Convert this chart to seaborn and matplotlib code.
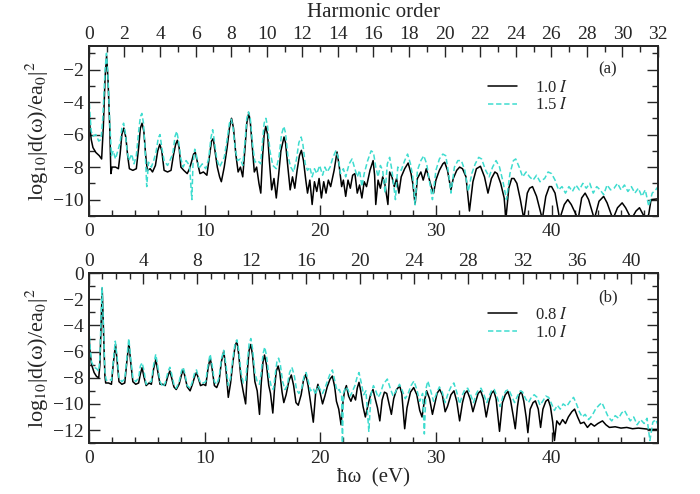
import numpy as np
import pandas as pd
import matplotlib
matplotlib.use("Agg")
import matplotlib.pyplot as plt
from matplotlib.ticker import MultipleLocator
import seaborn as sns

# ---------------- data ----------------
# panel (a): photon energy (eV) and log10|d(w)/ea0|^2
a_black = [
    (0.0, -4.4), (0.1, -5.6), (0.2, -6.3), (0.35, -6.8), (0.6, -7.1), (0.9, -7.3), (1.1, -7.5),
    (1.25, -5.5), (1.4, -2.5), (1.53, -1.15), (1.65, -2.6), (1.8, -5.5), (1.9, -8.4), (2.0, -8.0),
    (2.3, -8.0), (2.55, -8.1), (2.7, -7.2), (2.85, -6.0), (3.02, -5.6), (3.2, -6.2), (3.35, -7.3),
    (3.5, -8.1), (3.8, -8.2), (4.1, -8.1), (4.3, -6.8), (4.45, -5.6), (4.6, -5.3), (4.75, -5.8),
    (4.9, -7.2), (5.05, -8.2), (5.3, -8.1), (5.5, -8.3), (5.75, -7.9), (5.95, -7.0), (6.13, -6.6),
    (6.3, -7.0), (6.5, -8.2), (6.8, -8.3), (7.1, -8.2), (7.3, -7.3), (7.5, -6.6), (7.65, -6.35),
    (7.8, -6.8), (7.95, -8.0), (8.2, -8.2), (8.5, -8.4), (8.7, -8.1), (8.9, -7.6), (9.05, -7.2),
    (9.2, -7.1), (9.35, -7.6), (9.6, -8.4), (9.9, -8.3), (10.2, -8.5), (10.45, -7.2), (10.6, -6.4),
    (10.75, -6.25), (10.9, -7.0), (11.1, -8.0), (11.3, -8.6), (11.45, -8.9), (11.7, -8.0),
    (11.95, -6.8), (12.15, -5.6), (12.33, -5.0), (12.5, -5.6), (12.7, -7.2), (12.9, -8.3),
    (13.1, -8.0), (13.3, -8.6), (13.5, -6.8), (13.65, -5.3), (13.82, -4.68), (13.95, -5.2),
    (14.15, -7.0), (14.3, -8.3), (14.5, -8.0), (14.7, -9.0), (14.86, -9.6), (15.0, -7.5),
    (15.15, -6.0), (15.29, -5.5), (15.45, -6.0), (15.6, -7.6), (15.8, -9.4), (16.0, -8.7),
    (16.2, -9.9), (16.4, -8.5), (16.6, -7.0), (16.87, -6.15), (17.0, -6.5), (17.2, -8.0),
    (17.4, -9.4), (17.6, -8.6), (17.8, -9.3), (18.0, -8.2), (18.2, -7.3), (18.37, -6.97),
    (18.55, -7.6), (18.75, -8.8), (18.9, -9.6), (19.1, -8.8), (19.3, -10.3), (19.5, -8.9),
    (19.7, -9.5), (19.9, -8.7), (20.1, -9.9), (20.3, -8.9), (20.5, -9.6), (20.7, -8.8),
    (20.9, -9.2), (21.2, -8.2), (21.45, -7.07), (21.65, -8.0), (21.85, -9.2), (22.0, -8.8),
    (22.2, -9.8), (22.4, -8.8), (22.6, -9.3), (22.8, -8.5), (23.0, -8.4), (23.2, -9.6),
    (23.4, -9.1), (23.6, -9.9), (23.8, -8.9), (24.0, -9.2), (24.3, -8.2), (24.57, -7.6),
    (24.7, -8.5), (24.8, -10.3), (25.0, -8.8), (25.2, -9.3), (25.4, -8.6), (25.6, -9.1),
    (25.85, -10.3), (26.0, -8.3), (26.2, -8.6), (26.4, -9.2), (26.6, -8.7), (26.8, -9.6),
    (27.0, -8.6), (27.3, -8.1), (27.6, -7.75), (27.85, -8.4), (28.0, -9.0), (28.2, -10.3),
    (28.4, -8.7), (28.7, -8.3), (28.9, -8.8), (29.17, -8.1), (29.4, -8.7), (29.6, -9.2),
    (29.8, -9.6), (30.0, -8.8), (30.3, -8.2), (30.6, -7.8), (30.76, -7.7), (31.0, -8.2),
    (31.3, -9.4), (31.5, -8.7), (31.8, -8.2), (32.05, -8.0), (32.3, -8.1), (32.6, -8.6),
    (32.9, -10.7), (33.2, -8.9), (33.5, -8.1), (33.85, -7.95), (34.2, -8.6), (34.5, -9.6),
    (34.8, -8.7), (35.1, -8.3), (35.3, -8.4), (35.6, -9.0), (35.9, -9.9), (36.05, -11.2),
    (36.3, -9.3), (36.55, -8.7), (36.75, -8.7), (37.0, -9.0), (37.3, -10.0), (37.6, -11.2),
    (37.9, -9.6), (38.1, -9.3), (38.35, -9.2), (38.7, -9.8), (39.2, -11.2), (39.5, -9.8),
    (39.8, -9.2), (40.0, -9.2), (40.3, -9.6), (40.7, -11.2), (41.1, -10.3), (41.4, -10.0),
    (41.7, -10.3), (42.3, -11.2), (42.6, -9.9), (42.9, -9.6), (43.2, -10.0), (43.7, -11.2),
    (44.1, -10.1), (44.5, -9.8), (44.8, -10.2), (45.3, -11.2), (45.7, -10.5), (46.1, -10.2),
    (46.4, -10.5), (46.9, -11.2), (47.3, -10.7), (47.6, -10.5), (47.9, -10.9), (48.2, -11.2),
    (48.4, -10.9), (48.6, -10.0), (49.2, -9.95),
]
a_cyan = [
    (0.0, -3.6), (0.1, -4.8), (0.2, -5.8), (0.35, -6.1), (0.6, -6.0), (0.85, -6.4), (1.05, -6.3),
    (1.2, -5.0), (1.4, -2.0), (1.52, -1.0), (1.65, -2.4), (1.8, -5.2), (1.95, -7.3), (2.1, -7.0),
    (2.3, -7.5), (2.5, -7.0), (2.7, -6.5), (2.85, -5.6), (3.0, -5.3), (3.15, -5.9), (3.3, -7.0),
    (3.45, -7.6), (3.7, -7.2), (3.9, -7.8), (4.1, -7.3), (4.3, -5.8), (4.45, -4.9), (4.58, -4.7),
    (4.72, -5.3), (4.85, -6.8), (5.0, -9.2), (5.15, -7.7), (5.4, -8.0), (5.6, -7.6), (5.8, -7.1),
    (6.0, -6.2), (6.15, -6.0), (6.3, -6.8), (6.5, -7.6), (6.8, -7.9), (7.0, -7.6), (7.25, -7.2),
    (7.45, -6.1), (7.6, -5.8), (7.75, -6.4), (7.95, -7.5), (8.15, -8.0), (8.4, -7.6), (8.7, -7.9),
    (8.9, -10.0), (9.0, -7.8), (9.15, -6.9), (9.3, -7.3), (9.5, -8.1), (9.8, -7.8), (10.1, -8.1),
    (10.35, -7.5), (10.55, -6.2), (10.7, -5.7), (10.85, -6.4), (11.05, -7.5), (11.3, -8.0),
    (11.5, -7.7), (11.7, -7.4), (11.95, -6.3), (12.15, -5.3), (12.3, -5.05), (12.45, -5.5),
    (12.65, -6.9), (12.85, -7.6), (13.1, -7.5), (13.3, -7.9), (13.5, -6.4), (13.65, -5.0),
    (13.8, -4.6), (13.95, -5.0), (14.15, -6.6), (14.35, -7.7), (14.6, -7.6), (14.85, -7.8),
    (15.0, -6.5), (15.15, -5.3), (15.3, -5.0), (15.45, -5.5), (15.65, -7.0), (15.9, -7.9),
    (16.2, -8.1), (16.45, -7.3), (16.65, -6.0), (16.85, -5.5), (17.0, -5.9), (17.2, -7.3),
    (17.45, -8.0), (17.7, -8.3), (17.95, -7.5), (18.15, -6.5), (18.35, -6.15), (18.5, -6.6),
    (18.7, -7.8), (18.9, -8.2), (19.1, -8.0), (19.3, -8.6), (19.5, -8.1), (19.7, -8.4),
    (19.95, -7.9), (20.2, -8.5), (20.4, -8.0), (20.6, -8.3), (20.85, -8.0), (21.1, -7.4),
    (21.35, -7.0), (21.55, -7.4), (21.75, -8.4), (22.0, -8.1), (22.2, -8.6), (22.5, -7.8),
    (22.75, -7.5), (22.95, -8.0), (23.2, -8.6), (23.4, -8.2), (23.6, -9.2), (23.8, -8.4),
    (24.1, -7.6), (24.4, -7.0), (24.6, -7.1), (24.8, -8.0), (25.0, -8.6), (25.2, -7.9),
    (25.4, -8.2), (25.6, -9.6), (25.8, -7.8), (26.0, -7.4), (26.2, -8.2), (26.5, -10.0),
    (26.7, -8.0), (27.0, -8.2), (27.3, -7.6), (27.55, -7.2), (27.8, -7.8), (28.0, -8.6),
    (28.2, -10.3), (28.4, -8.2), (28.7, -7.6), (28.95, -7.3), (29.2, -7.8), (29.5, -9.1),
    (29.7, -10.0), (30.0, -8.2), (30.3, -7.5), (30.6, -7.2), (30.85, -7.3), (31.1, -8.4),
    (31.3, -9.6), (31.6, -8.0), (31.9, -7.6), (32.2, -7.6), (32.5, -8.2), (32.8, -9.5),
    (33.1, -8.4), (33.4, -7.8), (33.7, -7.4), (33.95, -7.5), (34.3, -8.2), (34.6, -8.6),
    (34.9, -8.0), (35.2, -7.6), (35.5, -8.0), (35.8, -8.9), (36.1, -10.0), (36.4, -8.4),
    (36.7, -7.6), (36.9, -7.5), (37.2, -8.0), (37.5, -8.6), (37.8, -8.3), (38.1, -8.6),
    (38.4, -8.8), (38.7, -8.5), (39.0, -8.9), (39.4, -8.7), (39.7, -8.3), (40.0, -8.4),
    (40.3, -8.8), (40.6, -9.4), (40.9, -9.2), (41.2, -9.6), (41.5, -9.2), (41.8, -9.5),
    (42.1, -9.1), (42.4, -9.4), (42.7, -9.0), (43.0, -9.3), (43.3, -9.0), (43.6, -9.6),
    (43.9, -9.2), (44.2, -9.4), (44.5, -9.7), (44.8, -9.1), (45.1, -9.4), (45.4, -9.3),
    (45.7, -9.0), (46.0, -9.4), (46.3, -9.1), (46.6, -9.5), (46.9, -9.2), (47.2, -9.6),
    (47.5, -9.3), (47.8, -9.8), (48.1, -9.4), (48.4, -10.4), (48.7, -9.6), (49.0, -9.4),
    (49.2, -9.2),
]
# panel (b)
b_black = [
    (0.0, -4.6), (0.1, -6.0), (0.23, -7.0), (0.45, -7.6), (0.66, -7.9), (0.85, -8.0), (0.95, -7.0),
    (1.05, -4.0), (1.15, -1.17), (1.25, -4.0), (1.38, -7.8), (1.45, -8.4), (1.7, -8.4),
    (1.95, -8.5), (2.1, -7.0), (2.3, -5.45), (2.45, -6.8), (2.6, -8.3), (2.85, -8.5), (3.1, -8.4),
    (3.3, -6.6), (3.46, -5.32), (3.6, -6.7), (3.8, -8.3), (4.05, -8.5), (4.3, -8.4), (4.45, -7.7),
    (4.6, -7.23), (4.75, -7.9), (4.95, -8.6), (5.2, -8.4), (5.4, -8.5), (5.6, -7.3), (5.79, -6.6),
    (5.95, -7.5), (6.15, -8.5), (6.4, -8.5), (6.6, -8.6), (6.85, -7.8), (7.0, -7.48), (7.15, -8.0),
    (7.35, -8.7), (7.55, -8.9), (7.8, -8.5), (8.0, -7.8), (8.15, -7.35), (8.3, -7.9), (8.5, -8.7),
    (8.75, -9.0), (8.95, -8.5), (9.15, -7.9), (9.3, -7.6), (9.45, -8.0), (9.65, -8.6), (9.9, -8.5),
    (10.1, -8.6), (10.3, -7.3), (10.48, -6.47), (10.65, -7.3), (10.85, -8.6), (11.05, -8.75),
    (11.25, -8.3), (11.45, -6.8), (11.66, -5.96), (11.85, -7.4), (12.05, -9.5), (12.25, -8.4),
    (12.45, -6.8), (12.65, -5.5), (12.8, -5.24), (12.95, -6.2), (13.15, -8.1), (13.33, -9.0),
    (13.55, -10.0), (13.7, -7.5), (13.85, -5.9), (14.0, -5.45), (14.15, -6.3), (14.35, -8.3),
    (14.55, -9.0), (14.75, -10.8), (14.9, -8.4), (15.05, -6.8), (15.18, -6.26), (15.35, -7.0),
    (15.55, -8.6), (15.7, -9.2), (15.9, -10.7), (16.05, -8.8), (16.2, -7.5), (16.36, -7.1),
    (16.5, -7.6), (16.7, -9.1), (16.85, -9.9), (17.05, -9.3), (17.3, -8.2), (17.5, -7.79),
    (17.7, -8.6), (17.9, -9.9), (18.1, -10.1), (18.35, -9.3), (18.55, -8.2), (18.75, -7.74),
    (18.95, -8.6), (19.15, -9.8), (19.4, -11.4), (19.6, -9.2), (19.8, -8.5), (20.0, -9.2),
    (20.2, -10.0), (20.4, -9.4), (20.6, -8.7), (20.85, -8.1), (21.05, -7.87), (21.25, -8.7),
    (21.4, -9.8), (21.6, -10.4), (21.8, -11.6), (21.95, -10.0), (22.1, -9.0), (22.26, -8.6),
    (22.45, -9.4), (22.65, -9.8), (22.85, -9.3), (23.05, -9.7), (23.2, -8.8), (23.35, -8.35),
    (23.5, -9.0), (23.7, -10.2), (23.9, -11.0), (24.1, -10.2), (24.35, -9.3), (24.56, -8.9),
    (24.75, -9.6), (24.95, -10.3), (25.15, -11.3), (25.35, -9.7), (25.55, -9.1), (25.75, -9.2),
    (25.95, -10.0), (26.15, -10.8), (26.35, -9.6), (26.6, -8.9), (26.87, -8.63), (27.05, -9.2),
    (27.3, -11.9), (27.5, -10.3), (27.8, -9.1), (28.08, -8.75), (28.35, -9.3), (28.6, -10.5),
    (28.8, -11.0), (29.0, -9.8), (29.2, -9.0), (29.45, -9.6), (29.7, -10.8), (29.9, -10.0),
    (30.1, -9.2), (30.32, -8.88), (30.55, -9.3), (30.8, -10.6), (31.0, -10.2), (31.3, -9.3),
    (31.56, -9.0), (31.8, -9.8), (32.05, -11.3), (32.3, -9.9), (32.5, -9.2), (32.7, -9.0),
    (32.95, -9.6), (33.2, -10.6), (33.45, -9.8), (33.65, -9.2), (33.87, -9.0), (34.1, -9.6),
    (34.35, -11.0), (34.6, -9.8), (34.8, -9.2), (35.0, -9.0), (35.2, -9.6), (35.5, -12.1),
    (35.75, -9.9), (36.0, -9.3), (36.23, -9.05), (36.45, -9.7), (36.7, -11.0), (36.86, -11.9),
    (37.05, -10.2), (37.2, -9.3), (37.4, -9.05), (37.6, -9.8), (37.8, -11.0), (37.95, -12.2),
    (38.15, -10.4), (38.4, -9.9), (38.6, -9.77), (38.85, -10.4), (39.05, -11.8), (39.25, -10.4),
    (39.5, -9.8), (39.7, -9.65), (39.9, -10.2), (40.1, -11.4), (40.25, -12.8), (40.45, -11.3),
    (40.7, -11.6), (40.95, -11.2), (41.2, -11.5), (41.45, -11.0), (41.75, -10.6), (41.99, -10.4),
    (42.25, -11.0), (42.5, -11.5), (42.8, -11.4), (43.1, -11.8), (43.4, -11.5), (43.7, -11.7),
    (44.0, -11.5), (44.4, -11.3), (44.7, -11.6), (45.0, -11.8), (45.5, -11.75), (46.0, -11.85),
    (46.5, -11.8), (47.0, -11.9), (47.5, -11.85), (48.0, -11.9), (48.5, -11.95), (49.2, -11.95),
]
b_cyan = [
    (0.0, -4.2), (0.1, -5.6), (0.23, -6.8), (0.45, -7.2), (0.66, -7.3), (0.85, -7.5), (0.95, -6.5),
    (1.05, -3.5), (1.14, -1.1), (1.25, -3.8), (1.38, -7.5), (1.5, -8.2), (1.75, -8.1),
    (1.95, -8.2), (2.1, -6.8), (2.28, -5.2), (2.45, -6.5), (2.6, -8.0), (2.85, -8.3), (3.1, -8.1),
    (3.3, -6.3), (3.45, -5.0), (3.6, -6.4), (3.8, -8.0), (4.05, -8.3), (4.3, -8.0), (4.45, -7.1),
    (4.6, -6.85), (4.75, -7.4), (4.95, -8.5), (5.2, -8.3), (5.4, -8.3), (5.6, -7.0), (5.78, -6.2),
    (5.95, -7.1), (6.15, -8.3), (6.4, -8.7), (6.6, -8.4), (6.85, -7.5), (7.0, -7.2), (7.15, -7.7),
    (7.35, -8.5), (7.55, -8.8), (7.8, -8.3), (8.0, -7.5), (8.15, -7.2), (8.3, -7.7), (8.5, -8.6),
    (8.75, -8.8), (8.95, -8.3), (9.15, -7.6), (9.3, -7.4), (9.45, -7.9), (9.65, -8.4), (9.9, -8.4),
    (10.1, -8.3), (10.3, -7.0), (10.48, -6.2), (10.65, -7.0), (10.85, -8.3), (11.05, -8.5),
    (11.25, -8.0), (11.45, -6.6), (11.65, -5.9), (11.85, -7.0), (12.05, -8.6), (12.25, -8.0),
    (12.45, -6.5), (12.65, -5.3), (12.8, -5.1), (12.95, -5.9), (13.15, -7.6), (13.35, -8.4),
    (13.55, -8.2), (13.7, -6.8), (13.85, -5.4), (14.0, -5.0), (14.15, -5.8), (14.35, -7.6),
    (14.55, -8.3), (14.75, -8.5), (14.9, -7.6), (15.05, -6.2), (15.2, -5.65), (15.35, -6.3),
    (15.55, -7.8), (15.75, -8.6), (15.95, -8.9), (16.1, -7.8), (16.25, -6.8), (16.4, -6.5),
    (16.55, -7.0), (16.75, -8.3), (16.95, -8.9), (17.15, -8.6), (17.35, -7.6), (17.55, -7.2),
    (17.75, -7.8), (17.95, -8.9), (18.15, -9.2), (18.4, -8.8), (18.6, -7.9), (18.78, -7.6),
    (18.95, -8.2), (19.15, -9.0), (19.4, -8.8), (19.6, -9.3), (19.8, -8.6), (20.0, -8.9),
    (20.2, -9.2), (20.4, -8.8), (20.6, -8.3), (20.85, -7.7), (21.05, -7.4), (21.25, -8.2),
    (21.45, -9.0), (21.65, -8.9), (21.85, -9.4), (21.92, -13.0), (22.0, -9.2), (22.2, -8.7),
    (22.4, -8.9), (22.6, -9.4), (22.8, -9.0), (23.0, -8.6), (23.2, -7.9), (23.35, -7.6),
    (23.55, -8.4), (23.75, -9.3), (23.95, -9.0), (24.2, -12.1), (24.4, -9.2), (24.6, -8.6),
    (24.8, -9.0), (25.0, -9.5), (25.2, -9.2), (25.45, -8.5), (25.8, -8.1), (26.05, -8.8),
    (26.3, -9.4), (26.55, -9.0), (26.85, -8.5), (27.1, -9.0), (27.35, -9.6), (27.6, -9.2),
    (27.85, -8.6), (28.1, -8.25), (28.35, -8.9), (28.6, -9.8), (28.85, -9.2), (29.0, -12.3),
    (29.15, -8.8), (29.3, -8.25), (29.55, -9.0), (29.8, -9.8), (30.05, -9.2), (30.3, -8.7),
    (30.55, -9.1), (30.8, -9.9), (31.05, -9.2), (31.3, -8.7), (31.55, -8.4), (31.8, -9.1),
    (32.05, -10.0), (32.3, -9.3), (32.5, -8.9), (32.75, -8.8), (33.0, -9.3), (33.25, -9.9),
    (33.5, -9.2), (33.7, -8.9), (33.9, -8.8), (34.15, -9.3), (34.4, -9.9), (34.65, -9.3),
    (34.85, -8.9), (35.05, -8.9), (35.3, -9.5), (35.55, -10.2), (35.8, -9.4), (36.05, -9.0),
    (36.3, -8.9), (36.55, -9.4), (36.8, -9.9), (37.05, -9.4), (37.3, -9.0), (37.5, -9.1),
    (37.75, -9.6), (38.0, -9.9), (38.25, -9.5), (38.5, -9.3), (38.75, -9.5), (39.0, -10.1),
    (39.3, -9.7), (39.5, -9.4), (39.75, -9.5), (40.0, -10.0), (40.25, -10.5), (40.5, -10.1),
    (40.75, -10.4), (41.0, -10.0), (41.3, -10.2), (41.6, -9.8), (41.9, -9.5), (42.15, -10.0),
    (42.4, -10.6), (42.65, -11.0), (42.9, -10.8), (43.2, -11.2), (43.5, -10.9), (43.8, -10.4),
    (44.1, -10.1), (44.35, -9.9), (44.6, -10.4), (44.9, -11.0), (45.2, -11.3), (45.5, -10.9),
    (45.8, -11.1), (46.05, -10.7), (46.3, -10.5), (46.55, -10.9), (46.8, -11.3), (47.1, -11.0),
    (47.4, -11.6), (47.7, -11.2), (48.0, -11.5), (48.25, -11.1), (48.5, -12.8), (48.75, -11.4),
    (49.0, -11.2), (49.2, -11.6),
]
labels_a = ["1.0 $I$", "1.5 $I$"]
labels_b = ["0.8 $I$", "1.0 $I$"]
harm_max_a = 32
harm_max_b = 42

# ---------------- style ----------------
sns.set_style("ticks")
plt.rcParams["font.family"] = ["Liberation Serif", "DejaVu Serif"]
plt.rcParams["mathtext.fontset"] = "stix"
plt.rcParams["axes.linewidth"] = 1.3

BLACK = "#000000"
CYAN = "#3fdccf"
FS_TICK = 14
FS_LAB = 15

fig = plt.figure(figsize=(7.0, 4.94), dpi=100)
ax_a = fig.add_axes([0.127, 0.563, 0.813, 0.344])
ax_b = fig.add_axes([0.127, 0.103, 0.813, 0.344])


def to_df(pairs):
    return pd.DataFrame(pairs, columns=["ev", "logd"])


def style_axis(ax, ylim, harm_max, harm_major, panel):
    ax.set_xlim(0, 49.2)
    ax.set_ylim(*ylim)
    ax.xaxis.set_major_locator(MultipleLocator(10))
    ax.xaxis.set_minor_locator(MultipleLocator(2))
    ax.yaxis.set_major_locator(MultipleLocator(2))
    ax.yaxis.set_minor_locator(MultipleLocator(1))
    ax.tick_params(which="both", direction="in", top=False, right=True, width=1.0,
                   labelsize=FS_TICK)
    ax.tick_params(which="major", length=8)
    ax.tick_params(which="minor", length=4)
    ax.tick_params(axis="x", pad=5)
    ax.set_ylabel(r"log$_{10}$|d(ω)/ea$_0$|$^2$", fontsize=FS_LAB + 1, labelpad=2)
    ax.text(0.912, 0.86, panel, transform=ax.transAxes, fontsize=12, ha="center", va="center")
    ax.legend(loc="upper left", bbox_to_anchor=(0.69, 0.84), frameon=False, fontsize=12,
              handlelength=1.7, handletextpad=1.1, labelspacing=0.1, borderaxespad=0)
    top = ax.twiny()
    top.set_xlim(0, harm_max)
    top.xaxis.set_major_locator(MultipleLocator(harm_major))
    top.xaxis.set_minor_locator(MultipleLocator(1))
    top.tick_params(which="both", direction="in", labelsize=FS_TICK, width=1.0, pad=2)
    top.tick_params(which="major", length=8)
    top.tick_params(which="minor", length=4)
    for s in top.spines.values():
        s.set_linewidth(1.3)
    return top


for ax, blk, cyn, labs in [(ax_a, a_black, a_cyan, labels_a), (ax_b, b_black, b_cyan, labels_b)]:
    sns.lineplot(data=to_df(blk), x="ev", y="logd", ax=ax, color=BLACK, lw=1.1, label=labs[0])
    sns.lineplot(data=to_df(cyn), x="ev", y="logd", ax=ax, color=CYAN, lw=1.1,
                 dashes=False, label=labs[1])
    ax.lines[1].set_dashes((3.5, 1.8))

top_a = style_axis(ax_a, (-11.0, -0.55), harm_max_a, 2, "(a)")
top_a.set_xlabel("")
ax_a.set_xlabel("")
fig.text(0.533, 1 - 12.5 / 494, "Harmonic order", fontsize=FS_LAB, ha="center", va="center")
top_b = style_axis(ax_b, (-13.0, 0.0), harm_max_b, 4, "(b)")
top_b.set_xlabel("")
ax_b.set_xlabel("ħω  (eV)", fontsize=FS_LAB, labelpad=1)

fig.savefig("out.png", dpi=100)
